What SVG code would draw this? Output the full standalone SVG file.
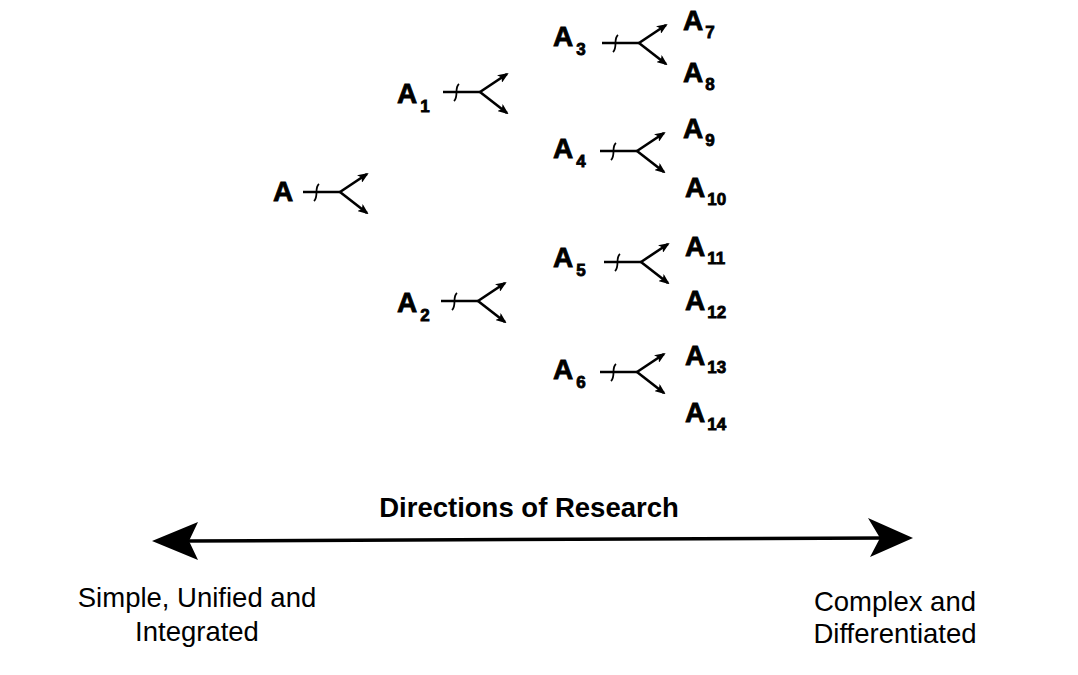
<svg xmlns="http://www.w3.org/2000/svg" xmlns:xlink="http://www.w3.org/1999/xlink" width="1078" height="675" viewBox="0 0 1078 675">
<style>
.lbl{font-family:"Liberation Sans",Arial,sans-serif;font-weight:bold;font-size:28px;fill:#000;stroke:#000;stroke-width:0.8}
.sub{font-size:17px}
.cap{font-family:"Liberation Sans",Arial,sans-serif;font-size:27.5px;fill:#000}
.title{font-family:"Liberation Sans",Arial,sans-serif;font-weight:bold;font-size:27.5px;fill:#000}
.ln{fill:none;stroke:#000;stroke-width:2.6;stroke-linecap:butt}
.sl{fill:none;stroke:#000;stroke-width:1.8}
</style>
<defs>
<marker id="ah" markerUnits="userSpaceOnUse" markerWidth="11" markerHeight="9" refX="9" refY="4.5" orient="auto">
<path d="M0,0 L11,4.5 L0,9 L2.5,4.5 z" fill="#000"/>
</marker>
<g id="fork">
<path class="ln" d="M0,0 H37"/>
<path class="sl" d="M16,-8 C11,-4 16,4 11,9"/>
<path class="ln" d="M37,0 L64,-18" marker-end="url(#ah)"/>
<path class="ln" d="M37,0 L64,21" marker-end="url(#ah)"/>
</g>
</defs>
<rect width="1078" height="675" fill="#fff"/>
<g id="connectors">
<use xlink:href="#fork" transform="translate(303,192)"/>
<use xlink:href="#fork" transform="translate(443,92)"/>
<use xlink:href="#fork" transform="translate(441,301)"/>
<use xlink:href="#fork" transform="translate(602,43)"/>
<use xlink:href="#fork" transform="translate(600,151)"/>
<use xlink:href="#fork" transform="translate(604,262)"/>
<use xlink:href="#fork" transform="translate(600,372)"/>
<g id="direction-arrow">
<path d="M185,541 L885,538" stroke="#000" stroke-width="3.5" fill="none"/>
<path d="M152,541 L198,522 L189,541 L198,560 z" fill="#000"/>
<path d="M913,538 L868,518 L880,538 L870,557 z" fill="#000"/>
</g>
</g>
<g id="node-A"><text class="lbl" x="273" y="201">A</text></g>
<g id="node-A1"><text class="lbl" x="397" y="103">A<tspan class="sub" dx="3" dy="9">1</tspan></text></g>
<g id="node-A2"><text class="lbl" x="397" y="312">A<tspan class="sub" dx="3" dy="9">2</tspan></text></g>
<g id="node-A3"><text class="lbl" x="553" y="46">A<tspan class="sub" dx="3" dy="9">3</tspan></text></g>
<g id="node-A4"><text class="lbl" x="553" y="158">A<tspan class="sub" dx="3" dy="9">4</tspan></text></g>
<g id="node-A5"><text class="lbl" x="553" y="267">A<tspan class="sub" dx="3" dy="9">5</tspan></text></g>
<g id="node-A6"><text class="lbl" x="553" y="379">A<tspan class="sub" dx="3" dy="9">6</tspan></text></g>
<g id="node-A7"><text class="lbl" x="683" y="30">A<tspan class="sub" dx="2" dy="8">7</tspan></text></g>
<g id="node-A8"><text class="lbl" x="683" y="82">A<tspan class="sub" dx="2" dy="8">8</tspan></text></g>
<g id="node-A9"><text class="lbl" x="683" y="138">A<tspan class="sub" dx="2" dy="8">9</tspan></text></g>
<g id="node-A10"><text class="lbl" x="685" y="197">A<tspan class="sub" dx="2" dy="8">10</tspan></text></g>
<g id="node-A11"><text class="lbl" x="685" y="256">A<tspan class="sub" dx="2" dy="8">11</tspan></text></g>
<g id="node-A12"><text class="lbl" x="685" y="310">A<tspan class="sub" dx="2" dy="8">12</tspan></text></g>
<g id="node-A13"><text class="lbl" x="685" y="365">A<tspan class="sub" dx="2" dy="8">13</tspan></text></g>
<g id="node-A14"><text class="lbl" x="685" y="422">A<tspan class="sub" dx="2" dy="8">14</tspan></text></g>
<g id="labels">
<text class="title" x="529" y="517" text-anchor="middle">Directions of Research</text>
<text class="cap" x="197" y="607" text-anchor="middle">Simple, Unified and</text>
<text class="cap" x="197" y="641" text-anchor="middle">Integrated</text>
<text class="cap" x="895" y="611" text-anchor="middle">Complex and</text>
<text class="cap" x="895" y="643" text-anchor="middle">Differentiated</text>
</g>
</svg>
